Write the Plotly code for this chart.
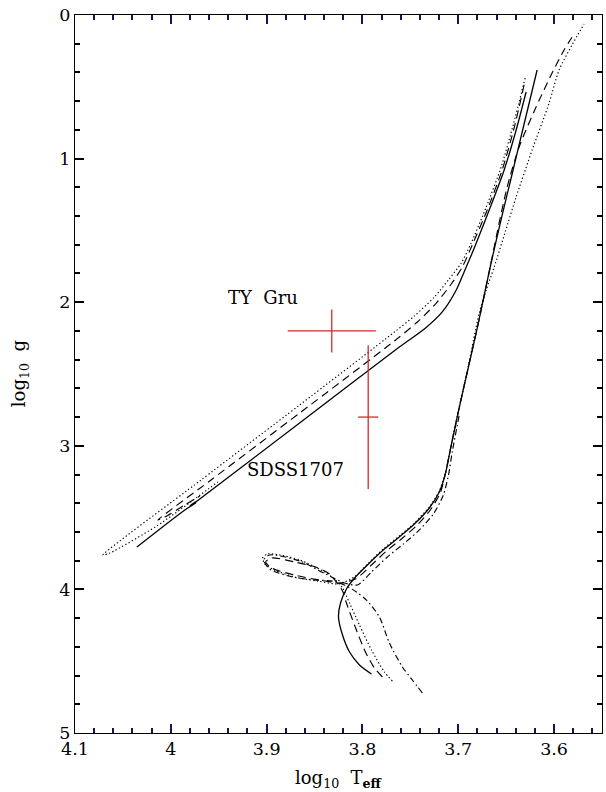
import plotly.graph_objects as go

# ---------------- data (log10 Teff, log10 g) ----------------
# solid track: main sequence -> subgiant -> red giant branch
solid_rgb_x = [3.7906, 3.8031, 3.8135, 3.8208, 3.825, 3.8229, 3.8167, 3.8073, 3.7927, 3.7771,
               3.7615, 3.7458, 3.7302, 3.7198, 3.7135, 3.7083, 3.70, 3.6906, 3.6802, 3.6667,
               3.6542, 3.6448, 3.6313, 3.6177]
solid_rgb_y = [4.589, 4.526, 4.436, 4.318, 4.192, 4.095, 3.997, 3.914, 3.816, 3.719,
               3.635, 3.545, 3.433, 3.322, 3.196, 3.029, 2.765, 2.486, 2.180, 1.755,
               1.393, 1.135, 0.759, 0.383]
# solid track: post-RGB branch towards hot side
solid_post_x = [3.6292, 3.6396, 3.6521, 3.6677, 3.6833, 3.6917, 3.7021, 3.7167, 3.7354, 3.7615,
                3.8656, 3.9698, 3.9802, 3.974, 3.9854, 4.0354]
solid_post_y = [0.536, 0.801, 1.079, 1.358, 1.623, 1.755, 1.915, 2.068, 2.187, 2.312,
                2.841, 3.370, 3.419, 3.398, 3.447, 3.705]

# dashed track
dashed_rgb_x = [3.7792, 3.7875, 3.7969, 3.8083, 3.8167, 3.8208, 3.8344, 3.849, 3.8708, 3.8948,
                3.901, 3.8948, 3.8708, 3.8448, 3.824, 3.8073, 3.7906, 3.775, 3.7594, 3.7438,
                3.7292, 3.7188, 3.7135, 3.7083, 3.70, 3.6906, 3.6802, 3.6667, 3.6604, 3.649,
                3.6365, 3.6188, 3.6021, 3.5896, 3.5792]
dashed_rgb_y = [4.610, 4.547, 4.436, 4.248, 4.095, 4.011, 3.893, 3.844, 3.809, 3.781,
                3.809, 3.851, 3.900, 3.935, 3.955, 3.928, 3.830, 3.733, 3.649, 3.558,
                3.447, 3.329, 3.196, 3.029, 2.765, 2.486, 2.180, 1.755, 1.546, 1.198,
                0.919, 0.641, 0.404, 0.244, 0.132]
dashed_post_x = [3.6313, 3.6417, 3.6542, 3.6698, 3.6854, 3.6958, 3.7073, 3.7229, 3.7427, 3.7667,
                 3.8656, 3.9594, 4.0135, 4.0063, 3.9854, 3.9698]
dashed_post_y = [0.487, 0.787, 1.079, 1.358, 1.602, 1.755, 1.873, 2.006, 2.138, 2.270,
                 2.772, 3.245, 3.517, 3.496, 3.412, 3.350]

# dotted track
dotted_rgb_x = [3.7688, 3.7771, 3.7906, 3.8031, 3.8135, 3.8208, 3.8281, 3.8375, 3.8656, 3.8865,
                3.899, 3.9042, 3.901, 3.8917, 3.8708, 3.8469, 3.824, 3.8073, 3.7927, 3.7771,
                3.7615, 3.7458, 3.7302, 3.7198, 3.7135, 3.7083, 3.70, 3.6906, 3.6781, 3.6708,
                3.6625, 3.651, 3.6396, 3.6229, 3.6052, 3.5948, 3.5813, 3.5688]
dotted_rgb_y = [4.638, 4.575, 4.422, 4.248, 4.095, 3.990, 3.935, 3.886, 3.795, 3.760,
                3.753, 3.781, 3.830, 3.865, 3.914, 3.942, 3.962, 3.907, 3.809, 3.712,
                3.628, 3.538, 3.426, 3.315, 3.189, 3.022, 2.758, 2.479, 2.075, 1.915,
                1.755, 1.511, 1.267, 0.940, 0.613, 0.383, 0.209, 0.063]
dotted_post_x = [3.6302, 3.6427, 3.6552, 3.6708, 3.6865, 3.6969, 3.7094, 3.725, 3.7458, 3.7667,
                 3.8656, 3.9698, 4.0708, 4.0635, 4.0146, 3.951]
dotted_post_y = [0.439, 0.766, 1.058, 1.337, 1.588, 1.727, 1.838, 1.964, 2.096, 2.208,
                 2.716, 3.245, 3.760, 3.746, 3.558, 3.252]

# dash-dot track
dashdot_x = [3.7375, 3.7479, 3.7583, 3.7719, 3.7823, 3.7958, 3.8063, 3.8188, 3.8313, 3.848,
             3.8729, 3.8969, 3.9031, 3.8969, 3.8656, 3.8385, 3.8188, 3.8052, 3.7906, 3.774,
             3.7573, 3.7406, 3.726, 3.7156, 3.7104, 3.7063, 3.699]
dashdot_y = [4.721, 4.631, 4.540, 4.373, 4.192, 4.074, 4.018, 3.969, 3.942, 3.935,
             3.914, 3.858, 3.795, 3.760, 3.802, 3.893, 3.955, 3.969, 3.879, 3.774,
             3.684, 3.586, 3.475, 3.343, 3.210, 3.043, 2.786]

# observed stars
star_names = ["TY Gru", "SDSS1707"]
star_teff = [3.832, 3.794]
star_teff_err = [0.046, 0.0105]
star_logg = [2.20, 2.80]
star_logg_err = [0.15, 0.50]
label_x = [3.904, 3.870]
label_y = [1.964, 3.162]

# ---------------- figure ----------------
FONT = "DejaVu Serif"
fig = go.Figure()

def add_line(x, y, dash, width=1.15):
    fig.add_trace(go.Scatter(x=x, y=y, mode="lines",
                             line=dict(color="black", width=width, dash=dash,
                                       shape="spline", smoothing=0.7),
                             hoverinfo="skip", showlegend=False))

DOT = "1.3px,2.4px"
DASH = "8px,5px"
DASHDOT = "6px,3px,1.5px,3px"

add_line(dotted_rgb_x, dotted_rgb_y, DOT)
add_line(dotted_post_x, dotted_post_y, DOT)
add_line(dashdot_x, dashdot_y, DASHDOT)
add_line(dashed_rgb_x, dashed_rgb_y, DASH)
add_line(dashed_post_x, dashed_post_y, DASH)
add_line(solid_rgb_x, solid_rgb_y, "solid", 1.3)
add_line(solid_post_x, solid_post_y, "solid", 1.3)

RED = "#d8282a"
fig.add_trace(go.Scatter(
    x=star_teff, y=star_logg, mode="markers",
    marker=dict(size=0.1, color=RED, opacity=0),
    error_x=dict(type="data", array=star_teff_err, color=RED, thickness=1.3, width=0),
    error_y=dict(type="data", array=star_logg_err, color=RED, thickness=1.3, width=0),
    hoverinfo="skip", showlegend=False))

for name, lx, ly in zip(star_names, label_x, label_y):
    fig.add_annotation(x=lx, y=ly, text=name.replace(" ", "\u00a0\u00a0"), showarrow=False,
                       font=dict(family=FONT, size=18, color="black"),
                       xanchor="center", yanchor="middle")

# axis titles
fig.add_annotation(xref="paper", yref="paper", x=0.5, y=-0.064,
                   text="log<sub>10</sub>\u00a0 T<sub><b>eff</b></sub>", showarrow=False,
                   font=dict(family=FONT, size=18, color="black"),
                   xanchor="center", yanchor="middle")
fig.add_annotation(xref="paper", yref="paper", x=-0.104, y=0.5,
                   text="log<sub>10</sub>\u00a0 g", showarrow=False, textangle=-90,
                   font=dict(family=FONT, size=18, color="black"),
                   xanchor="center", yanchor="middle")

X_TICK = "#141450"   # very dark navy
Y_TICK = "black"

fig.update_layout(
    width=606, height=792,
    margin=dict(l=75, r=4, t=15, b=59),
    paper_bgcolor="white", plot_bgcolor="white",
    showlegend=False,
    xaxis=dict(range=[4.1, 3.55], tickmode="linear", tick0=4.0, dtick=0.1,
               showgrid=False, zeroline=False, showline=True, linecolor="black",
               linewidth=1.3, mirror="ticks", ticks="inside", ticklen=9, tickwidth=1.5,
               tickcolor=X_TICK,
               tickfont=dict(family=FONT, size=17.5, color="black"),
               minor=dict(dtick=0.02, ticks="inside", ticklen=4.5, tickwidth=1.5,
                          tickcolor=X_TICK, showgrid=False)),
    yaxis=dict(range=[5, 0], tickmode="linear", tick0=0, dtick=1,
               showgrid=False, zeroline=False, showline=True, linecolor="black",
               linewidth=1.3, mirror="ticks", ticks="inside", ticklen=9, tickwidth=1.5,
               tickcolor=Y_TICK,
               tickfont=dict(family=FONT, size=17.5, color="black"),
               minor=dict(dtick=0.2, ticks="inside", ticklen=4.5, tickwidth=1.5,
                          tickcolor=Y_TICK, showgrid=False)),
)

fig.write_html("out.html", config={"displayModeBar": False})
